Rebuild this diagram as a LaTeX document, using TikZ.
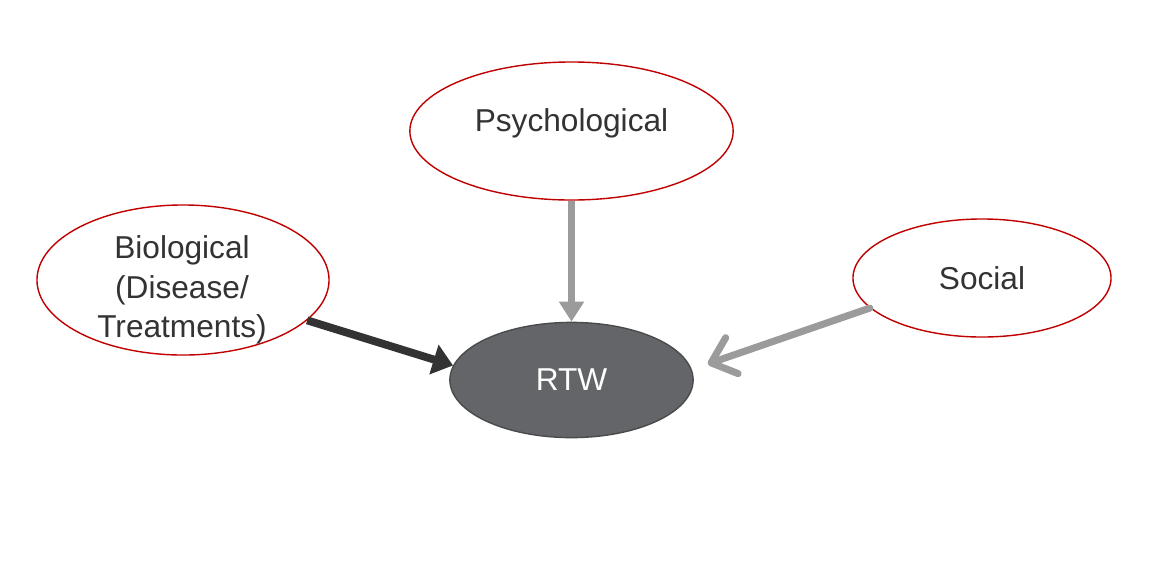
\documentclass[tikz,border=0pt]{standalone}
\usepackage{fontspec}
\setmainfont{Liberation Sans}
\usepackage{tikz}
\usetikzlibrary{arrows.meta,shapes.geometric}
\definecolor{brick}{HTML}{C00000}
\definecolor{ink}{HTML}{333333}
\definecolor{slate}{HTML}{646568}
\definecolor{slateline}{HTML}{4A4B4D}
\definecolor{ash}{HTML}{9B9B9B}

\begin{document}
\begin{tikzpicture}[
  x=0.025cm,y=-0.025cm,
  every node/.style={font=\fontsize{22.5}{28}\selectfont,align=center,text=ink},
  factor/.style={ellipse,draw=brick,fill=white,line width=1pt,inner sep=0pt},
  outcome/.style={ellipse,draw=slateline,fill=slate,text=white,line width=1pt,inner sep=0pt},
  strong/.style={-{Triangle[length=0.5cm,width=0.75cm]},line width=5.6pt,ink},
  weak/.style={-{Triangle[length=0.5cm,width=0.6cm]},line width=5pt,ash},
  loose/.style={-{Straight Barb[length=0.55cm,width=0.95cm,round]},line width=5pt,ash,line cap=round}
]
  \useasboundingbox (0,0) rectangle (1152,574);

  % Three factors around the outcome.
  \node[factor,minimum width=8.08cm,minimum height=3.45cm] (psych) at (571.5,131) {};
  \node (psychtext) at (571.5,123) {Psychological};
  \node[factor,minimum width=7.3cm,minimum height=3.75cm] (bio) at (183,280) {};
  \node (biotext) at (182,290) {Biological\\(Disease/\\Treatments)};
  \node[factor,minimum width=6.45cm,minimum height=2.95cm] (social) at (982,278) {Social};
  \node[outcome,minimum width=6.08cm,minimum height=2.88cm] (rtw) at (571.5,380) {RTW};

  % Links into RTW; weights shown by colour and tip.
  \draw[strong] (bio.-18) -- (rtw.173);
  \draw[weak] (psych.south) -- (rtw.north);
  \draw[loose,shorten >=12] (social.195) -- (rtw.5);
\end{tikzpicture}
\end{document}
